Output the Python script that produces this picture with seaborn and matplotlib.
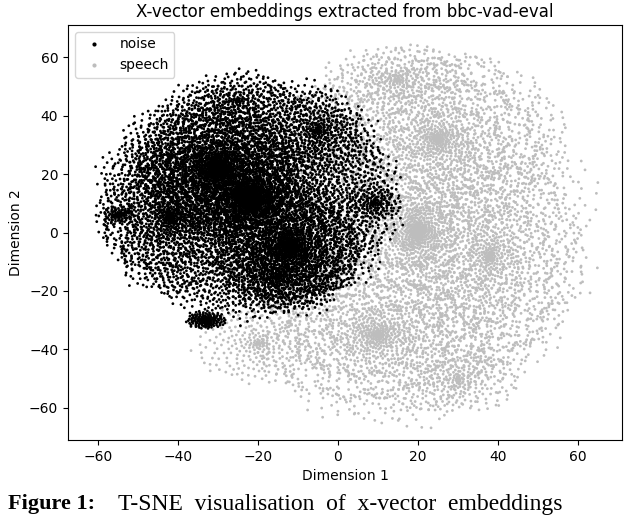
import numpy as np
import pandas as pd
import matplotlib
matplotlib.use("Agg")
import matplotlib.pyplot as plt
import seaborn as sns

# cluster blobs: centre x, centre y, radius x, radius y, point count
noise_cx = [-22, -30, -12, -42, -33, -55, 9, -5, -25, -15]
noise_cy = [12, 22, -5, 5, -30, 6, 10, 35, 45, -15]
noise_rx = [36, 20, 18, 18, 5, 4, 7, 12, 15, 15]
noise_ry = [40, 22, 20, 25, 3, 3, 6, 14, 10, 12]
noise_n = [6000, 2000, 1500, 800, 150, 70, 120, 300, 200, 400]

speech_cx = [20, 25, 10, 38, -20, 15, 30]
speech_cy = [0, 32, -35, -8, -38, 52, -50]
speech_rx = [42, 30, 32, 22, 16, 18, 15]
speech_ry = [62, 30, 28, 38, 14, 12, 12]
speech_n = [3500, 1200, 1200, 900, 250, 300, 200]

labels = ["noise", "speech"]
colors = ["black", "#bdbdbd"]

GA = np.pi * (3 - np.sqrt(5))


def blob(cx, cy, rx, ry, n):
    i = np.arange(n)
    r = ((i + 0.5) / n) ** 0.85
    t = i * GA
    wob = 1 + 0.12 * np.sin(7 * t) * np.cos(3.3 * i)
    return cx + rx * r * wob * np.cos(t), cy + ry * r * wob * np.sin(t)


rows = []
for lab, spec in (("speech", (speech_cx, speech_cy, speech_rx, speech_ry, speech_n)),
                  ("noise", (noise_cx, noise_cy, noise_rx, noise_ry, noise_n))):
    for cx, cy, rx, ry, n in zip(*spec):
        x, y = blob(cx, cy, rx, ry, n)
        rows.append(pd.DataFrame({"x": x, "y": y, "label": lab}))
df = pd.concat(rows, ignore_index=True)

fig = plt.figure(figsize=(6.32, 5.22), dpi=100)
ax = fig.add_axes([68 / 632, 1 - 440 / 522, 554 / 632, 415 / 522])
sns.scatterplot(data=df, x="x", y="y", hue="label", hue_order=labels,
                palette=dict(zip(labels, colors)), s=4, linewidth=0, ax=ax)
ax.set_xlim(-67.5, 71)
ax.set_ylim(-71, 71)
ax.set_xticks([-60, -40, -20, 0, 20, 40, 60])
ax.set_yticks([-60, -40, -20, 0, 20, 40, 60])
ax.set_xlabel("Dimension 1")
ax.set_ylabel("Dimension 2")
ax.set_title("X-vector embeddings extracted from bbc-vad-eval")
ax.legend(loc="upper left", markerscale=1.5)
fig.text(0.012, 1 - 494 / 522, "Figure 1:", ha="left", va="top",
         family="Liberation Serif", fontsize=16, fontweight="bold")
fig.text(118 / 632, 1 - 494 / 522, "T-SNE  visualisation  of  x-vector  embeddings",
         ha="left", va="top", family="Liberation Serif", fontsize=17)
fig.savefig("out.png", dpi=100)
